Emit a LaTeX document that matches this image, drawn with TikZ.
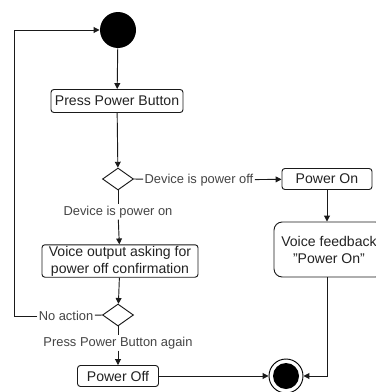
\documentclass[tikz,border=0pt]{standalone}
\usepackage{fontspec}
\setmainfont{Liberation Sans}
\usetikzlibrary{shapes.geometric, arrows.meta}
\definecolor{colLine}{HTML}{1A1A1A}
\definecolor{colText}{HTML}{222222}
\definecolor{colLabel}{HTML}{444444}

\begin{document}
\begin{tikzpicture}[x=0.03cm, y=-0.03cm, line width=0.8pt, colLine,
    font=\fontsize{12}{14.5}\selectfont,
    action/.style={rectangle, rounded corners=2.5pt, draw=colLine, text=colText, align=center, inner sep=1pt},
    decision/.style={diamond, draw=colLine, fill=white, inner sep=0pt, minimum width=0.93cm, minimum height=0.66cm},
    guard/.style={fill=white, text=colLabel, inner sep=1pt, font=\fontsize{11}{13}\selectfont},
    arr/.style={-{Triangle[length=5pt, width=5pt]}}]
  % Frame (reference size 376 x 392)
  \useasboundingbox (0,0) rectangle (376,392);
  \clip (0,12) rectangle (376,392);

  % Start / stop
  \node[circle, fill=black, minimum size=1.08cm, inner sep=0pt] (start) at (118,30) {};
  \node[circle, draw=black, minimum size=1.02cm, inner sep=0pt,
    path picture={\fill[black] (path picture bounding box.center) circle (0.39cm);}] (stop) at (286,376) {};

  % Actions
  \node[action, minimum width=2.7cm, minimum height=0.63cm] (pon) at (327,179) {Power On};
  \node[action, minimum width=3.96cm, minimum height=0.69cm] (press) at (117,101) {Press Power Button};
  \node[action, rounded corners=7pt, minimum width=3.3cm, minimum height=1.65cm] (feed) at (329,249.5) {Voice feedback\\\symbol{34}Power On\symbol{34}};
  \node[action, minimum width=4.68cm, minimum height=0.96cm] (voice) at (120,261) {Voice output asking for\\power off confirmation};
  \node[action, minimum width=2.43cm, minimum height=0.63cm] (poff) at (118,376) {Power Off};

  % Decisions
  \node[decision] (dec1) at (118,179) {};
  \node[decision] (dec2) at (118,315) {};

  % Guards
  \node[guard] (lbloff) at (199,180) {Device is power off};
  \node[guard] (lblon) at (118,212) {Device is power on};
  \node[guard] (lblno) at (66,316) {No action};
  \node[guard] (lblagain) at (118,343) {Press Power Button again};
  \coordinate (loopx) at (14,0);

  % Flow
  \draw[arr] (start) -- (press);
  \draw[arr] (press) -- (dec1);
  \draw (dec1.east) -- (lbloff);
  \draw[arr] (lbloff) -- (pon);
  \draw[arr] (pon.south) -- (pon.south |- feed.north);
  \draw (dec1.south) -- (lblon);
  \draw[arr] (lblon) -- (voice);
  \draw[arr] (voice) -- (dec2);
  \draw (dec2.west) -- (lblno);
  \draw[arr] (lblno.west) -- (lblno.west -| loopx) |- (start.west);
  \draw (dec2.south) -- (lblagain);
  \draw[arr] (lblagain) -- (poff);
  \draw[arr] (poff) -- (stop);
  \draw[arr] (pon.south |- feed.south) |- (stop.east);
\end{tikzpicture}
\end{document}
